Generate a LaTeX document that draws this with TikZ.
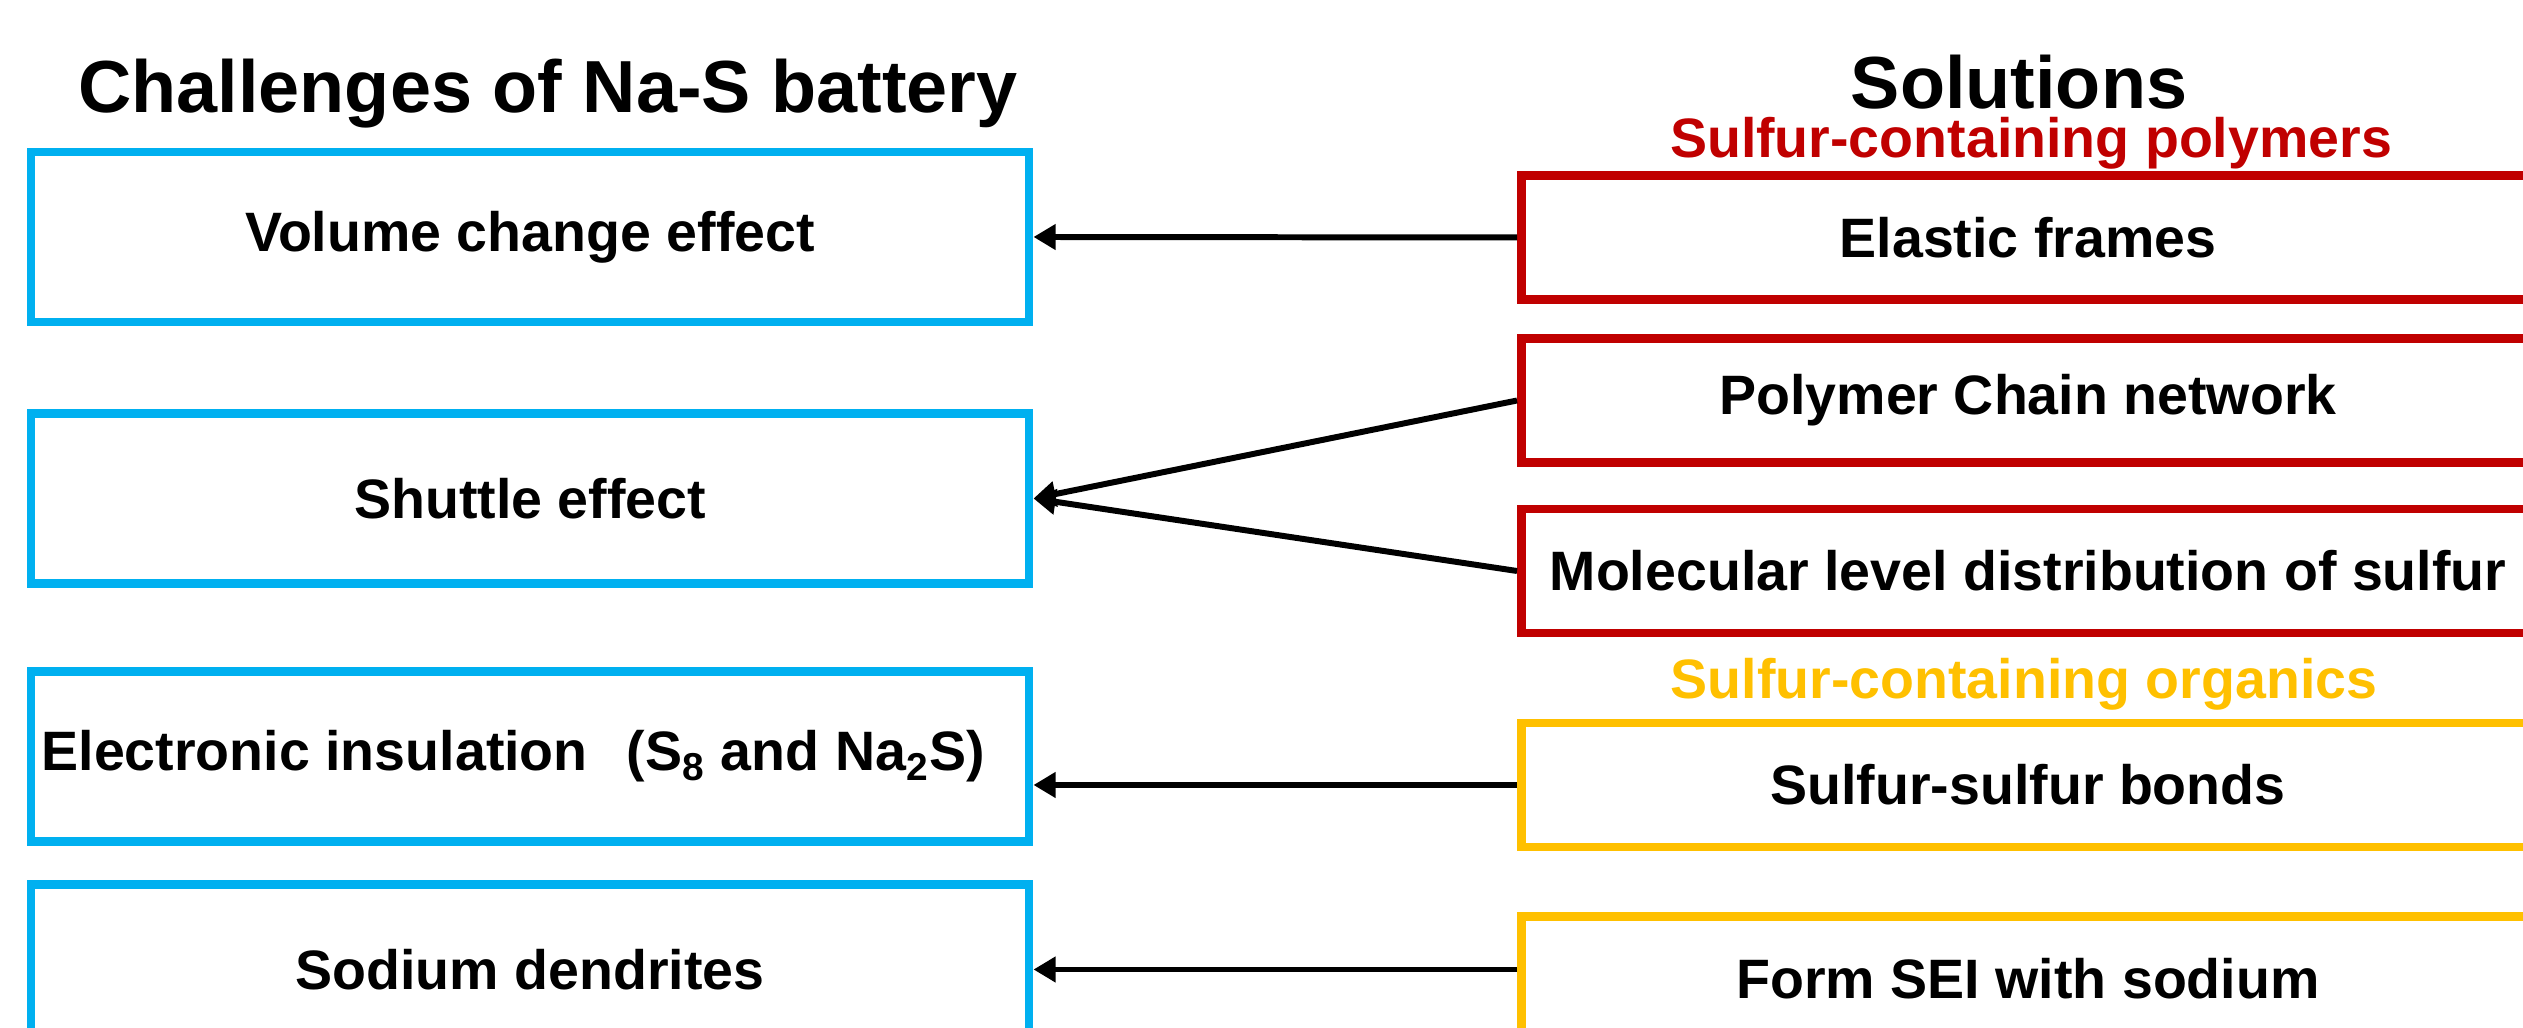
\documentclass[tikz,border=0pt]{standalone}
\usepackage{fontspec}
\setmainfont{Liberation Sans}
\usepackage{xcolor}
\usetikzlibrary{arrows.meta}
\definecolor{chalblue}{HTML}{00B0F0}
\definecolor{solred}{HTML}{C00000}
\definecolor{solyellow}{HTML}{FFC000}

\begin{document}
\begin{tikzpicture}[
  chal/.style={draw=chalblue, line width=2.55pt, minimum width=9.98cm, minimum height=1.70cm, inner sep=0pt,
    font=\fontsize{15.8}{19}\selectfont\bfseries},
  sol/.style={draw=#1, line width=2.55pt, minimum width=10.13cm, minimum height=1.24cm, inner sep=0pt,
    font=\fontsize{15.8}{19}\selectfont\bfseries},
  head/.style={anchor=base, inner sep=0.5pt, font=\fontsize{21}{25}\selectfont\bfseries},
  group/.style={anchor=base, inner sep=0.5pt, text=#1, font=\fontsize{15.8}{19}\selectfont\bfseries},
  link/.style={line width=1.7pt, -{Triangle[length=6.3pt,width=7pt]}}
]
\useasboundingbox (0,0) rectangle (25.23,10.28);
\clip (0,0) rectangle (25.23,10.28);
% --- headings ---
\node[head] (chaltitle) at (5.48,9.15) {Challenges of Na-S battery};
\node[head] (soltitle) at (20.19,9.19) {Solutions};
\node[group=solred] (polytitle) at (20.31,8.70) {Sulfur-containing polymers};
\node[group=solyellow] (orgtitle) at (20.24,3.29) {Sulfur-containing organics};
% --- challenges (left column) ---
\node[chal] (volume) at (5.30,7.91) {Volume change effect};
\node[chal] (shuttle) at (5.30,5.295) {Shuttle effect};
\node[chal] (insul) at (5.30,2.715) {Electronic insulation\hspace{0.7em}(S\textsubscript{8} and Na\textsubscript{2}S)\hspace{0.6em}\mbox{}};
\node[chal] (dendrite) at (5.30,0.585) {Sodium dendrites};
% --- solutions (right column) ---
\node[sol=solred] (elastic) at (20.28,7.905) {Elastic frames};
\node[sol=solred] (chain) at (20.28,6.275) {Polymer Chain network};
\node[sol=solred] (molec) at (20.28,4.57) {Molecular level distribution of sulfur};
\node[sol=solyellow] (ssbond) at (20.28,2.43) {Sulfur-sulfur bonds};
\node[sol=solyellow] (sei) at (20.28,0.495) {Form SEI with sodium};
% --- links ---
\draw[link] (elastic.west) -- (volume.east);
\draw[link] (chain.west) -- (shuttle.east);
\draw[link] (molec.west) -- (shuttle.east);
\draw[link] (ssbond.west) -- (insul.east |- ssbond.west);
\draw[link] (sei.west |- dendrite.east) -- (dendrite.east);
\end{tikzpicture}
\end{document}
